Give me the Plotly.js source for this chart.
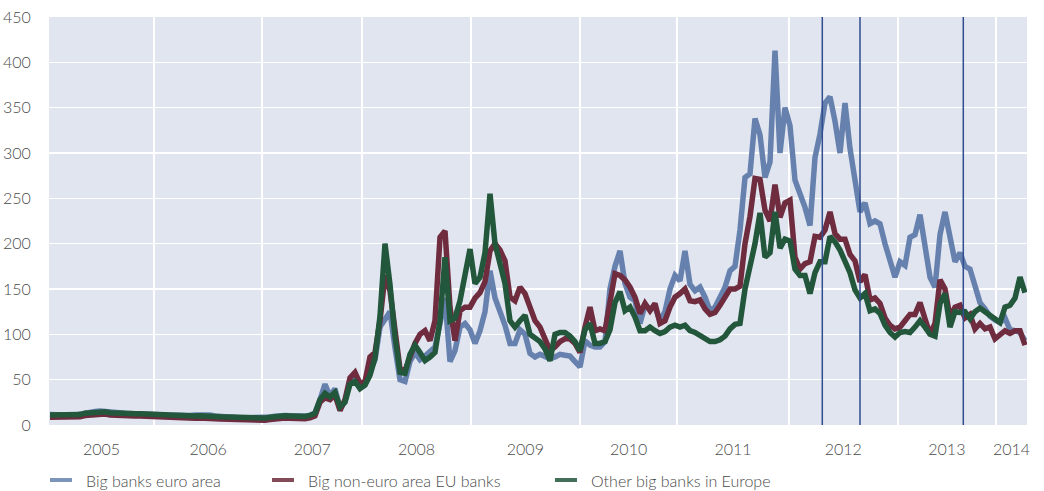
<!DOCTYPE html>
<html>
<head>
<meta charset="utf-8">
<script src="https://cdn.plot.ly/plotly-3.0.1.min.js"></script>
<style>html,body{margin:0;padding:0;background:#fff;}#chart{width:1044px;height:491px;}</style>
</head>
<body>
<div id="chart"></div>
<script>
// Series names
const seriesNames = ["Big banks euro area", "Big non-euro area EU banks", "Other big banks in Europe"];

// Observation index (one point per sampled period)
const obsIndex = Array.from({length: 196}, (_, i) => i);

// Index of each year boundary (2005/2006 ... 2013/2014)
const yearBoundaryIdx = [20.8, 42.46, 62.46, 84.14, 106, 125.46, 147.74, 169.54, 189.2];
const yearLabels = ["2005","2006","2007","2008","2009","2010","2011","2012","2013","2014"];

// Event markers (vertical lines)
const eventIdx = [154.46, 162, 182.66];

const bigEuro = [
11.5,11.3,10.8,10.3,10.3,10.8,11.8,13.3,13.8,14.8,15.5,14.8,13.8,13.3,13.3,13,12.8,12.8,12.5,12.3,
11.8,11.3,11.3,11,10.8,10.3,9.8,10,10.5,11,11.5,11.8,11,10,9.3,9,8.8,8.3,8,7.8,
7.8,7.5,7.8,8,8.8,9.8,10.8,10.5,10.3,9.8,9.5,9.8,10.8,13.3,
28,45,32,40,18,26,48,52,42,45,60,72,108,118,125,85,50,48,70,80,
72,76,82,86,112,140,70,82,108,112,105,90,104,125,170,140,125,110,90,90,
105,100,79,75,78,76,73,75,78,77,76,70,64,93,88,86,86,92,150,175,
192,156,141,137,112,132,128,130,115,125,150,165,159,192,155,148,152,141,126,130,
141,152,170,175,215,273,277,338,320,273,290,413,300,350,330,270,255,240,220,295,
321,355,362,335,300,355,305,268,235,245,222,225,222,200,182,163,180,176,207,210,
232,200,163,152,210,235,205,180,190,175,172,155,135,128,120,116,113,118,105,104,
102,93];

const bigNonEuro = [
8.5,8.5,8,7.5,7.5,8,9,10.5,11,12,12.8,12,11,10.5,10.5,10.3,10,10,9.8,9.5,
9,8.5,8.5,8.3,8,7.5,7,7,7.3,7.5,7.8,8,7.5,7,6.5,6.3,6,5.5,5.3,5,
5,4.8,5,5.3,6,7,8,7.7,7.5,7,6.7,7,8,10,
25,30,28,33,16,28,52,58,46,48,75,80,115,165,148,100,62,60,75,90,
100,104,93,115,207,214,130,93,126,130,130,140,146,158,192,200,193,181,141,137,
152,145,130,115,108,95,82,86,92,95,95,90,80,108,130,104,106,104,134,167,
165,160,152,141,123,134,126,134,112,115,130,141,145,150,137,136,138,128,122,124,
132,142,150,150,153,200,230,272,271,237,225,265,229,245,248,185,172,178,180,208,
207,215,235,211,205,205,188,181,158,166,138,140,134,118,110,106,108,115,122,122,
135,117,100,112,160,150,119,130,132,118,122,106,112,106,108,95,100,104,101,104,
104,88];

const otherBig = [
11,11,10.5,10,10,10.5,11.5,13,13.5,14.5,15.3,14.5,13.5,13,13,12.8,12.5,12.5,12.3,12,
11.5,11,11,10.8,10.5,10,9.5,9.5,9.8,10,10.3,10.5,10,9.5,9,8.8,8.5,8,7.8,7.5,
7.5,7.3,7.5,7.8,8.5,9.5,10.5,10.2,10,9.5,9.2,9.5,10.5,13,
28,35,31,36,20,25,45,48,40,44,55,74,120,200,155,97,58,57,78,88,
80,71,75,80,115,185,115,118,137,163,194,156,163,190,255,200,180,156,115,108,
115,121,100,95,92,84,71,100,102,102,98,92,82,105,112,90,90,92,105,135,
147,126,130,119,104,104,108,104,101,103,108,110,108,110,104,102,99,95,92,92,
94,98,106,111,112,150,175,200,234,185,190,235,195,205,203,172,165,165,145,168,
180,180,208,202,193,182,168,149,140,145,126,128,123,110,102,97,102,103,102,108,
115,108,100,98,134,145,108,125,124,125,117,125,129,125,121,117,113,130,132,140,
163,146];

const colors = ["#6681ae", "#6e2c3e", "#23573b"];
const seriesData = [bigEuro, bigNonEuro, otherBig];

const xRange = [-0.2, 195.4];
// label positions: middle of each year interval
const bounds = [xRange[0]].concat(yearBoundaryIdx, [xRange[1]]);
const labelPos = yearLabels.map((_, i) => (bounds[i] + bounds[i + 1]) / 2);

const traces = seriesData.map((ys, k) => ({
  x: obsIndex, y: ys, type: "scatter", mode: "lines", name: seriesNames[k],
  line: {color: colors[k], width: 5.5}, showlegend: false, hoverinfo: "skip"
}));

const font = {family: "Lato, 'Open Sans', sans-serif", size: 16, color: "#4a4a4a", weight: 300};

const shapes = eventIdx.map(v => ({
  type: "line", xref: "x", yref: "paper", x0: v, x1: v, y0: 0, y1: 1,
  line: {color: "#2f4d8f", width: 1.5}, layer: "above"
}));

// Manual legend (paper coords, plot area 978 x 408 px)
const legendX = [50, 272, 555];
const annotations = [];
seriesNames.forEach((n, k) => {
  const x0 = (legendX[k] - 49) / 978, x1 = (legendX[k] + 22 - 49) / 978;
  const yp = (425 - 480) / 408;
  shapes.push({type: "line", xref: "paper", yref: "paper", x0: x0, x1: x1, y0: yp, y1: yp,
    line: {color: colors[k], width: 4}, opacity: 0.85});
  annotations.push({xref: "paper", yref: "paper", x: (legendX[k] + 34 - 49) / 978, y: yp,
    xanchor: "left", yanchor: "middle", text: n, showarrow: false, font: font});
});

const layout = {
  width: 1044, height: 491,
  margin: {l: 49, r: 17, t: 17, b: 66, pad: 0},
  paper_bgcolor: "#ffffff", plot_bgcolor: "#e1e5f0",
  font: font, showlegend: false,
  xaxis: {
    range: xRange, tickmode: "array", tickvals: labelPos, ticktext: yearLabels,
    showgrid: false, zeroline: false, showline: false,
    ticks: "outside", ticklen: 10, tickcolor: "rgba(0,0,0,0)",
    tickfont: font,
    minor: {tickmode: "array", tickvals: yearBoundaryIdx, showgrid: true, gridcolor: "#ffffff", gridwidth: 2, ticks: ""}
  },
  yaxis: {
    range: [0, 450], tickmode: "linear", tick0: 0, dtick: 50,
    showgrid: true, gridcolor: "#ffffff", gridwidth: 1.6, zeroline: false, showline: false,
    ticks: "outside", ticklen: 14, tickcolor: "rgba(0,0,0,0)", tickfont: font
  },
  shapes: shapes, annotations: annotations
};

Plotly.newPlot("chart", traces, layout, {staticPlot: true, displayModeBar: false});
</script>
</body>
</html>
